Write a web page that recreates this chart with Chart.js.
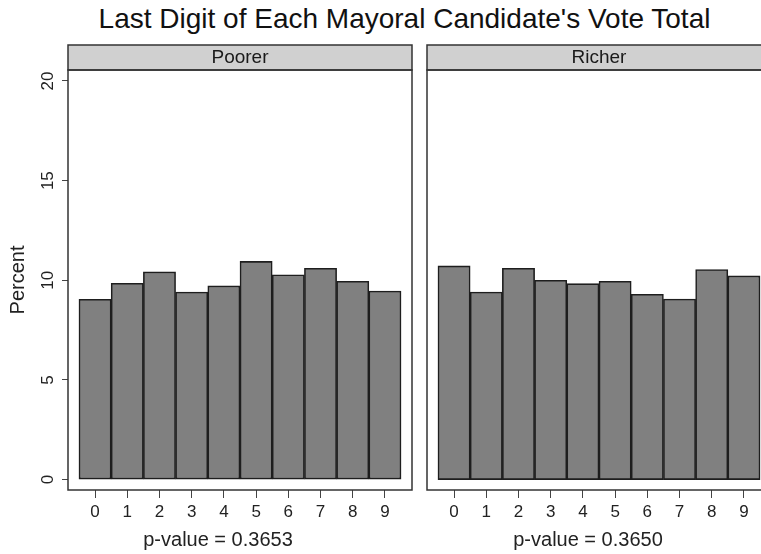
<!DOCTYPE html>
<html>
<head>
<meta charset="utf-8">
<script src="https://cdn.jsdelivr.net/npm/chart.js@4.4.1/dist/chart.umd.min.js"></script>
<style>
  html, body { margin: 0; padding: 0; overflow: hidden; background: #fff; width: 761px; height: 554px; }
  #title {
    position: absolute; left: 0; top: 5px; width: 809px; text-align: center;
    font: 28px 'Liberation Sans', Arial, sans-serif; line-height: 28px; color: #111; white-space: nowrap;
  }
  canvas { position: absolute; top: 0; }
</style>
</head>
<body>
<div id="title">Last Digit of Each Mayoral Candidate's Vote Total</div>
<canvas id="poorer-chart" width="420" height="554" style="left:0"></canvas>
<canvas id="richer-chart" width="360" height="554" style="left:420px"></canvas>
<script>
// last digit 0-9, percent of vote totals ending in each digit
const digits = [0, 1, 2, 3, 4, 5, 6, 7, 8, 9];
const poorerPct = [9.05, 9.85, 10.42, 9.41, 9.72, 10.95, 10.28, 10.6, 9.95, 9.46];
const richerPct = [10.72, 9.41, 10.6, 10.0, 9.83, 9.95, 9.3, 9.06, 10.54, 10.22];
const yTicks = [0, 5, 10, 15, 20];
const panelNames = ['Poorer', 'Richer'];
const pValues = ['0.3653', '0.3650'];

const FONT = "'Liberation Sans', Arial, sans-serif";

/**
 * Draws the lattice-style strip, panel box, rotated y labels and p-value caption
 */
const panelFrame = {
  id: 'panelFrame',
  afterDraw(chart, args, opts) {
    const { ctx, chartArea: a } = chart;
    ctx.save();

    // strip header
    ctx.fillStyle = '#d0d0d0';
    ctx.fillRect(a.left, 45, a.right - a.left, 25);
    ctx.strokeStyle = '#333';
    ctx.lineWidth = 1.5;
    ctx.strokeRect(a.left, 45, a.right - a.left, 25);
    ctx.fillStyle = '#1a1a1a';
    ctx.font = '19px ' + FONT;
    ctx.textAlign = 'center';
    ctx.textBaseline = 'middle';
    ctx.fillText(opts.label, (a.left + a.right) / 2, 58);

    // panel box
    ctx.strokeRect(a.left, a.top, a.right - a.left, a.bottom - a.top);

    // y tick labels, rotated like base R
    if (opts.yLabels) {
      const y = chart.scales.y;
      ctx.font = '17px ' + FONT;
      ctx.fillStyle = '#222';
      yTicks.forEach(v => {
        ctx.save();
        ctx.translate(47, y.getPixelForValue(v));
        ctx.rotate(-Math.PI / 2);
        ctx.fillText(String(v), 0, 1);
        ctx.restore();
      });
    }

    // p-value caption
    ctx.font = '20px ' + FONT;
    ctx.fillStyle = '#222';
    ctx.textBaseline = 'alphabetic';
    ctx.fillText('p-value = ' + opts.pValue, (a.left + a.right) / 2 + opts.captionShift, 546);
    ctx.restore();
  }
};

function makePanel(canvasId, name, values, pval, isLeft) {
  const canvas = document.getElementById(canvasId);
  return new Chart(canvas, {
    type: 'bar',
    data: {
      datasets: [{
        data: values.map((v, i) => ({ x: digits[i], y: v })),
        backgroundColor: '#808080',
        borderColor: '#1e1e1e',
        borderWidth: 1.6,
        borderSkipped: false,
        barPercentage: 1,
        categoryPercentage: 1
      }]
    },
    options: {
      responsive: false,
      animation: false,
      layout: { padding: { left: isLeft ? 0 : 7, right: isLeft ? 8 : 9, top: 70, bottom: 0 } },
      plugins: {
        legend: { display: false },
        tooltip: { enabled: false },
        title: { display: false },
        panelFrame: { label: name, pValue: pval, yLabels: isLeft, captionShift: isLeft ? -22 : -11 }
      },
      scales: {
        x: {
          type: 'linear',
          min: -0.84,
          max: 9.84,
          offset: false,
          grid: { offset: false, drawOnChartArea: false, drawTicks: true, tickLength: 8, color: '#444' },
          border: { display: false },
          ticks: {
            autoSkip: false, maxRotation: 0, padding: 4, color: '#222',
            font: { size: 17, family: FONT }
          },
          afterBuildTicks: s => { s.ticks = digits.map(d => ({ value: d })); },
          afterFit: s => { s.height = 64; }
        },
        y: {
          display: isLeft,
          min: -0.52,
          max: 20.55,
          grid: { drawOnChartArea: false, drawTicks: true, tickLength: 6, color: '#444' },
          border: { display: false },
          ticks: { display: false },
          afterBuildTicks: s => { s.ticks = yTicks.map(v => ({ value: v })); },
          afterFit: s => { s.width = isLeft ? 68 : 0; },
          title: {
            display: true, text: 'Percent', color: '#222',
            font: { size: 20, family: FONT }, padding: { top: 6, bottom: 0 }
          }
        }
      }
    },
    plugins: [panelFrame]
  });
}

makePanel('poorer-chart', panelNames[0], poorerPct, pValues[0], true);
makePanel('richer-chart', panelNames[1], richerPct, pValues[1], false);
</script>
</body>
</html>
